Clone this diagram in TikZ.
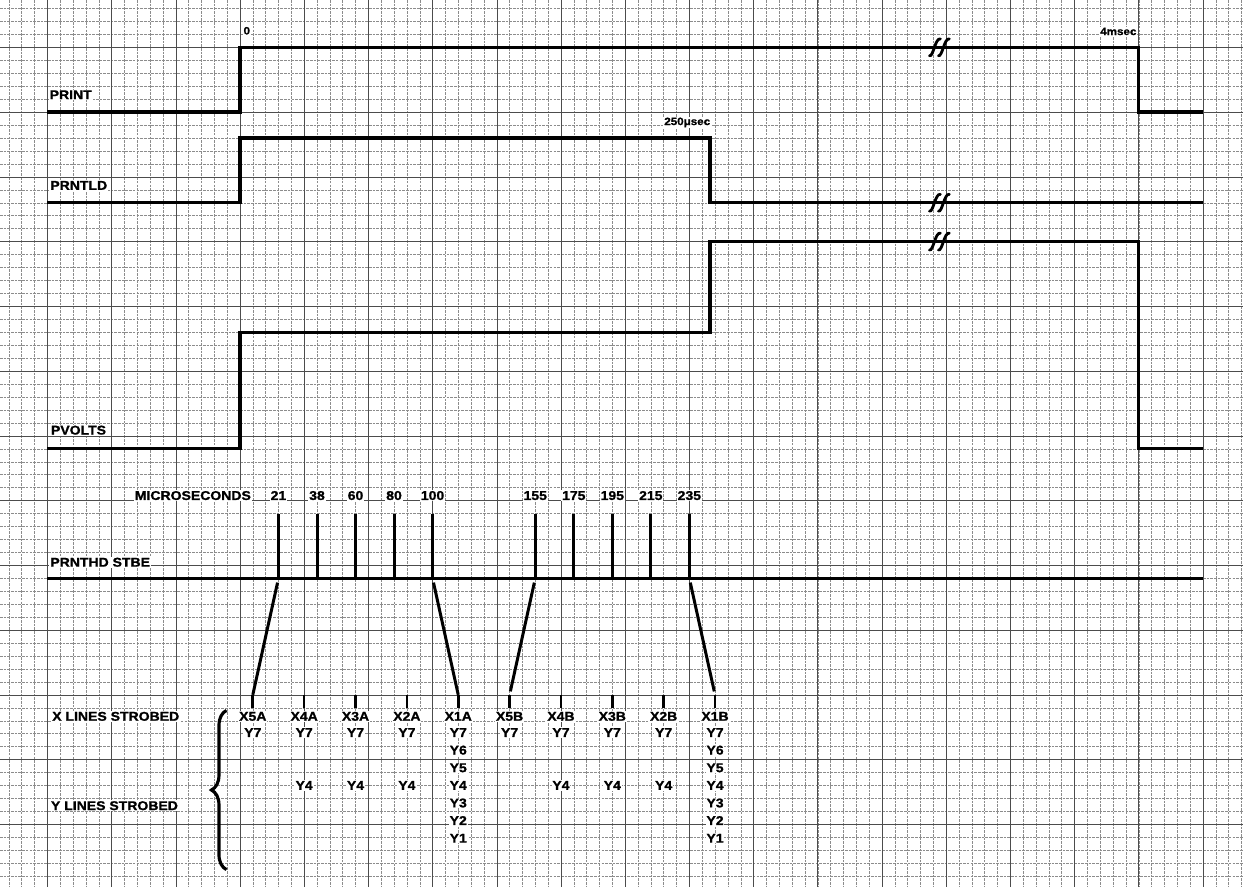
\documentclass[tikz,border=0pt]{standalone}
\usepackage{fontspec}
\setmainfont{Liberation Sans}[FakeStretch=1.1, BoldFeatures={FakeBold=1.2}]
\usetikzlibrary{decorations.pathreplacing}

\begin{document}
\begin{tikzpicture}[x=0.5136cm, y=-0.518cm,
    minor/.style={black!45, line width=0.5pt, dash pattern=on 3pt off 1.2pt},
    major/.style={black!70, line width=0.6pt},
    wave/.style={line width=3.8pt, line join=miter},
    pulse/.style={line width=3.4pt},
    slant/.style={line width=3.4pt, shorten <=5pt},
    tick/.style={line width=3pt},
    brk/.style={line width=3.2pt, line cap=round},
    lbl/.style={font=\bfseries\fontsize{14.5}{16}\selectfont, fill=white, inner sep=1pt, anchor=base west},
    num/.style={lbl, anchor=base},
    tag/.style={lbl, font=\bfseries\fontsize{12}{14}\selectfont}]

    \useasboundingbox (-18.69,-0.656) rectangle (78.12,67.84);
    \fill[white] (-18.69,-0.656) rectangle (78.12,67.84);
    \foreach \c in {-18,...,78} \draw[minor] (\c,-0.656) -- (\c,67.84);
    \foreach \r in {0,...,67} \draw[minor] (-18.69,\r) -- (78.12,\r);
    \foreach \c in {-15,-10,...,75} \draw[major] (\c,-0.656) -- (\c,67.84);
    \foreach \r in {3,8,...,63} \draw[major] (-18.69,\r) -- (78.12,\r);

    \draw[wave] (-15,8) -- (0,8) -- (0,3) -- (70,3) -- (70,8) -- (75,8);
    \draw[wave] (-15,15) -- (0,15) -- (0,10) -- (36.6,10) -- (36.6,15) -- (75,15);
    \draw[wave] (-15,34) -- (0,34) -- (0,25) -- (36.6,25) -- (36.6,18) -- (70,18) -- (70,34) -- (75,34);
    \draw[wave] (-15,44) -- (75,44);
    \foreach \r in {3,15,18} \foreach \d in {54.2,54.9}
        \draw[brk] (\d-0.5,\r+0.65) .. controls (\d-0.2,\r+0.75) and (\d-0.05,\r-0.75) .. (\d+0.35,\r-0.65);

    \node[lbl] (print) at (-14.9,7) {PRINT};
    \node[lbl] (prntld) at (-14.85,14) {PRNTLD};
    \node[lbl] (pvolts) at (-14.8,32.9) {PVOLTS};
    \node[lbl] (stbe) at (-14.85,43.1) {PRNTHD STBE};
    \node[lbl] (xlines) at (-14.7,55) {X LINES STROBED};
    \node[lbl] (ylines) at (-14.8,61.9) {Y LINES STROBED};
    \node[tag] (zero) at (0.2,2) {0};
    \node[tag, anchor=base east] (fourms) at (69.9,2.05) {4msec};
    \node[tag, anchor=base east] (twofifty) at (36.7,9) {250μsec};
    \node[lbl, anchor=base east] (micro) at (0.93,37.95) {MICROSECONDS};

    \foreach \c/\n in {3/21,6/38,9/60,12/80,15/100,23/155,26/175,29/195,32/215,35/235} {
        \coordinate (s\n) at (\c,44);
        \draw[pulse] (s\n) -- ++(0,-5);
        \node[num] (m\n) at (\c,37.95) {\n};
    }
    \foreach \c/\n/\ys in {1/X5A/7,5/X4A/{7,4},9/X3A/{7,4},13/X2A/{7,4},17/X1A/{7,6,5,4,3,2,1},
                           21/X5B/7,25/X4B/{7,4},29/X3B/{7,4},33/X2B/{7,4},37/X1B/{7,6,5,4,3,2,1}} {
        \coordinate (t\n) at (\c,53);
        \draw[tick] (t\n) -- ++(0,1);
        \node[num] (l\n) at (\c,55) {\n};
        \foreach \k in \ys
            \node[num] (l\n y\k) at (\c,{56.25+(7-\k)*1.36}) {Y\k};
    }
    \draw[slant] (s21) -- (tX5A);
    \draw[slant] (s100) -- (tX1A);
    \draw[slant, shorten >=4pt] (s155) -- (tX5B);
    \draw[slant, shorten >=4pt] (s235) -- (tX1B);

    \draw[line width=3.6pt, decorate, decoration={brace, amplitude=0.6cm}] (-1.05,66.5) -- (-1.05,54.2);
\end{tikzpicture}
\end{document}
